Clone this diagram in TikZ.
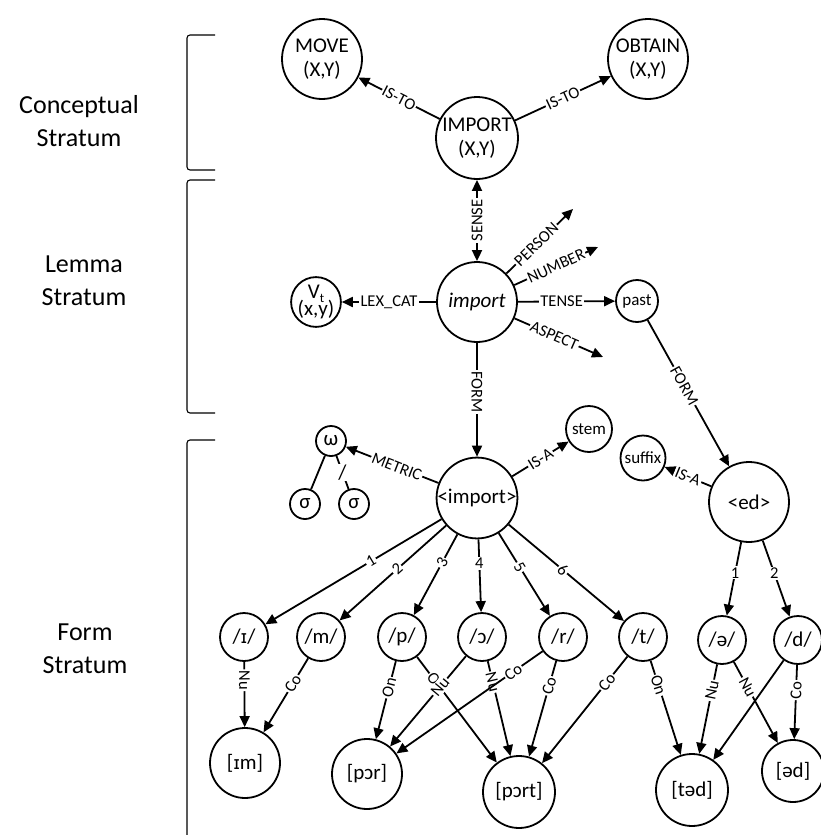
\documentclass[tikz,border=0pt]{standalone}
\usepackage{fontspec}
\setmainfont{Carlito}
\newfontfamily\ipafont{DejaVu Sans}
\usetikzlibrary{arrows.meta}
\newcommand\ndfont{\fontsize{21}{24}\selectfont}
\newcommand\smfont{\fontsize{17}{19}\selectfont}
\newcommand\lblfont{\fontsize{16.5}{17}\selectfont}
\newcommand\strfont{\fontsize{26}{33}\selectfont}
\newcommand\smallcapI{{\ipafont\fontsize{18}{18}\selectfont ɪ}}
\begin{document}
\begin{tikzpicture}[x=1pt,y=-1pt,
  circ/.style={circle, draw, line width=1.8pt, inner sep=0pt, minimum size=#1, align=center, font=\ndfont},
  small/.style={circ=#1, font=\smfont},
  lbl/.style={fill=white, inner sep=1.2pt, font=\lblfont},
  conn/.style={line width=1.8pt},
  tip/.tip={Triangle[length=11pt,width=10pt]},
  arr/.style={conn, -tip},
  bracket/.style={line width=1.1pt, rounded corners=3pt},
  stratum/.style={align=center, font=\strfont}]
\useasboundingbox (0,0) rectangle (821,835);

% strata labels and brackets
\node[stratum] (cs) at (79,121) {Conceptual\\Stratum};
\node[stratum] (ls) at (84,281) {Lemma\\Stratum};
\node[stratum] (fs) at (85,649) {Form\\Stratum};
\draw[bracket] (215,35) -- (187,35) -- (187,170) -- (215,170);
\draw[bracket] (215,180) -- (187,180) -- (187,413) -- (215,413);
\draw[bracket] (215,440) -- (187,440) -- (187,840);

% conceptual stratum
\node[circ=80] (MOVE) at (322,59) {MOVE\\(X,Y)};
\node[circ=80] (OBTAIN) at (648,59) {OBTAIN\\(X,Y)};
\node[circ=82] (IMPORT) at (477,138) {IMPORT\\(X,Y)};
\draw[arr] (IMPORT) -- node[lbl,sloped] {IS-TO} (MOVE);
\draw[arr] (IMPORT) -- node[lbl,sloped] {IS-TO} (OBTAIN);

% lemma stratum
\node[circ=80] (import) at (477,302) {\itshape import};
\node[circ=48, font=\fontsize{21}{19}\selectfont] (Vt) at (316,302)
  {V\raisebox{-0.35ex}{\fontsize{13}{13}\selectfont t}\\[-2pt](x,y)};
\node[small=42] (past) at (637,301) {past};
\coordinate (personEnd) at (573,209);
\coordinate (numberEnd) at (598,247);
\coordinate (aspectEnd) at (603,357);
\draw[conn, tip-tip] (import) -- node[lbl, rotate=90] {SENSE} (IMPORT);
\draw[arr] (import) -- node[lbl] {LEX\_CAT} (Vt);
\draw[arr] (import) -- node[lbl, sloped, pos=0.45] {PERSON} (personEnd);
\draw[arr] (import) -- node[lbl, sloped, pos=0.5] {NUMBER} (numberEnd);
\draw[arr] (import) -- node[lbl, pos=0.45] {TENSE} (past);
\draw[arr] (import) -- node[lbl, sloped, pos=0.45] {ASPECT} (aspectEnd);

% form stratum: morphemes
\node[circ=80] (mimport) at (477,498) {<import>};
\node[circ=80] (med) at (749,502) {<ed>};
\node[small=46] (stem) at (589,429) {stem};
\node[small=45] (suffix) at (643,458) {suffix};
\node[circ=30] (omega) at (331,441) {ω};
\node[circ=30] (sigA) at (305,504) {σ};
\node[circ=30] (sigB) at (354,504) {σ};
\draw[arr] (import) -- node[lbl, rotate=-90, pos=0.43] {FORM} (mimport);
\draw[arr] (past) -- node[lbl, sloped, pos=0.45] {FORM} (med);
\draw[arr] (mimport) -- node[lbl, sloped, pos=0.45] {METRIC} (omega);
\draw[arr] (mimport) -- node[lbl, sloped] {IS-A} (stem);
\draw[arr] (med) -- node[lbl, sloped] {IS-A} (suffix);
\draw[conn] (omega) -- (sigA);
\draw[conn] (omega) -- node[fill=white, inner sep=1pt, font=\ndfont] {/} (sigB);

% phonemes
\node[circ=48] (pI) at (244,637) {/\smallcapI/};
\node[circ=48] (pM) at (321,637) {/m/};
\node[circ=48] (pP) at (402,637) {/p/};
\node[circ=48] (pO) at (482,637) {/ɔ/};
\node[circ=48] (pR) at (563,637) {/r/};
\node[circ=48] (pT) at (643,637) {/t/};
\node[circ=48] (pE) at (722,640) {/ə/};
\node[circ=48] (pD) at (798,640) {/d/};
\draw[arr] (mimport) -- node[lbl, sloped, pos=0.4] {1} (pI);
\draw[arr] (mimport) -- node[lbl, sloped, pos=0.46] {2} (pM);
\draw[arr] (mimport) -- node[lbl, sloped, pos=0.35] {3} (pP);
\draw[arr] (mimport) -- node[lbl, pos=0.33] {4} (pO);
\draw[arr] (mimport) -- node[lbl, sloped, pos=0.41] {5} (pR);
\draw[arr] (mimport) -- node[lbl, sloped, pos=0.47] {6} (pT);
\draw[arr] (med) -- node[lbl, pos=0.42] {1} (pE);
\draw[arr] (med) -- node[lbl, pos=0.43] {2} (pD);

% syllables
\node[circ=70] (sIm) at (245,763) {[\smallcapI m]};
\node[circ=70] (sPor) at (367,774) {[pɔr]};
\node[circ=72] (sPort) at (519,792) {[pɔrt]};
\node[circ=72] (sTed) at (692,790) {[təd]};
\node[circ=62] (sEd) at (793,771) {[əd]};
\draw[arr] (pI) -- node[lbl, sloped, pos=0.28] {Nu} (sIm);
\draw[arr] (pM) -- node[lbl, sloped, pos=0.34] {Co} (sIm);
\draw[arr] (pP) -- node[lbl, sloped, pos=0.34] {On} (sPor);
\draw[arr] (pP) -- node[lbl, sloped, pos=0.24] {On} (sPort);
\draw[arr] (pO) -- node[lbl, sloped, pos=0.34] {Nu} (sPor);
\draw[arr] (pO) -- node[lbl, sloped, pos=0.22] {Nu} (sPort);
\draw[arr] (pR) -- node[lbl, sloped, pos=0.2] {Co} (sPor);
\draw[arr] (pR) -- node[lbl, sloped, pos=0.26] {Co} (sPort);
\draw[arr] (pT) -- node[lbl, sloped, pos=0.24] {Co} (sPort);
\draw[arr] (pT) -- node[lbl, sloped, pos=0.26] {On} (sTed);
\draw[arr] (pE) -- node[lbl, sloped, pos=0.29] {Nu} (sTed);
\draw[arr] (pE) -- node[lbl, sloped, pos=0.31] {Nu} (sEd);
\draw[arr] (pD) -- (sTed);
\draw[arr] (pD) -- node[lbl, sloped, pos=0.34] {Co} (sEd);
\end{tikzpicture}
\end{document}
